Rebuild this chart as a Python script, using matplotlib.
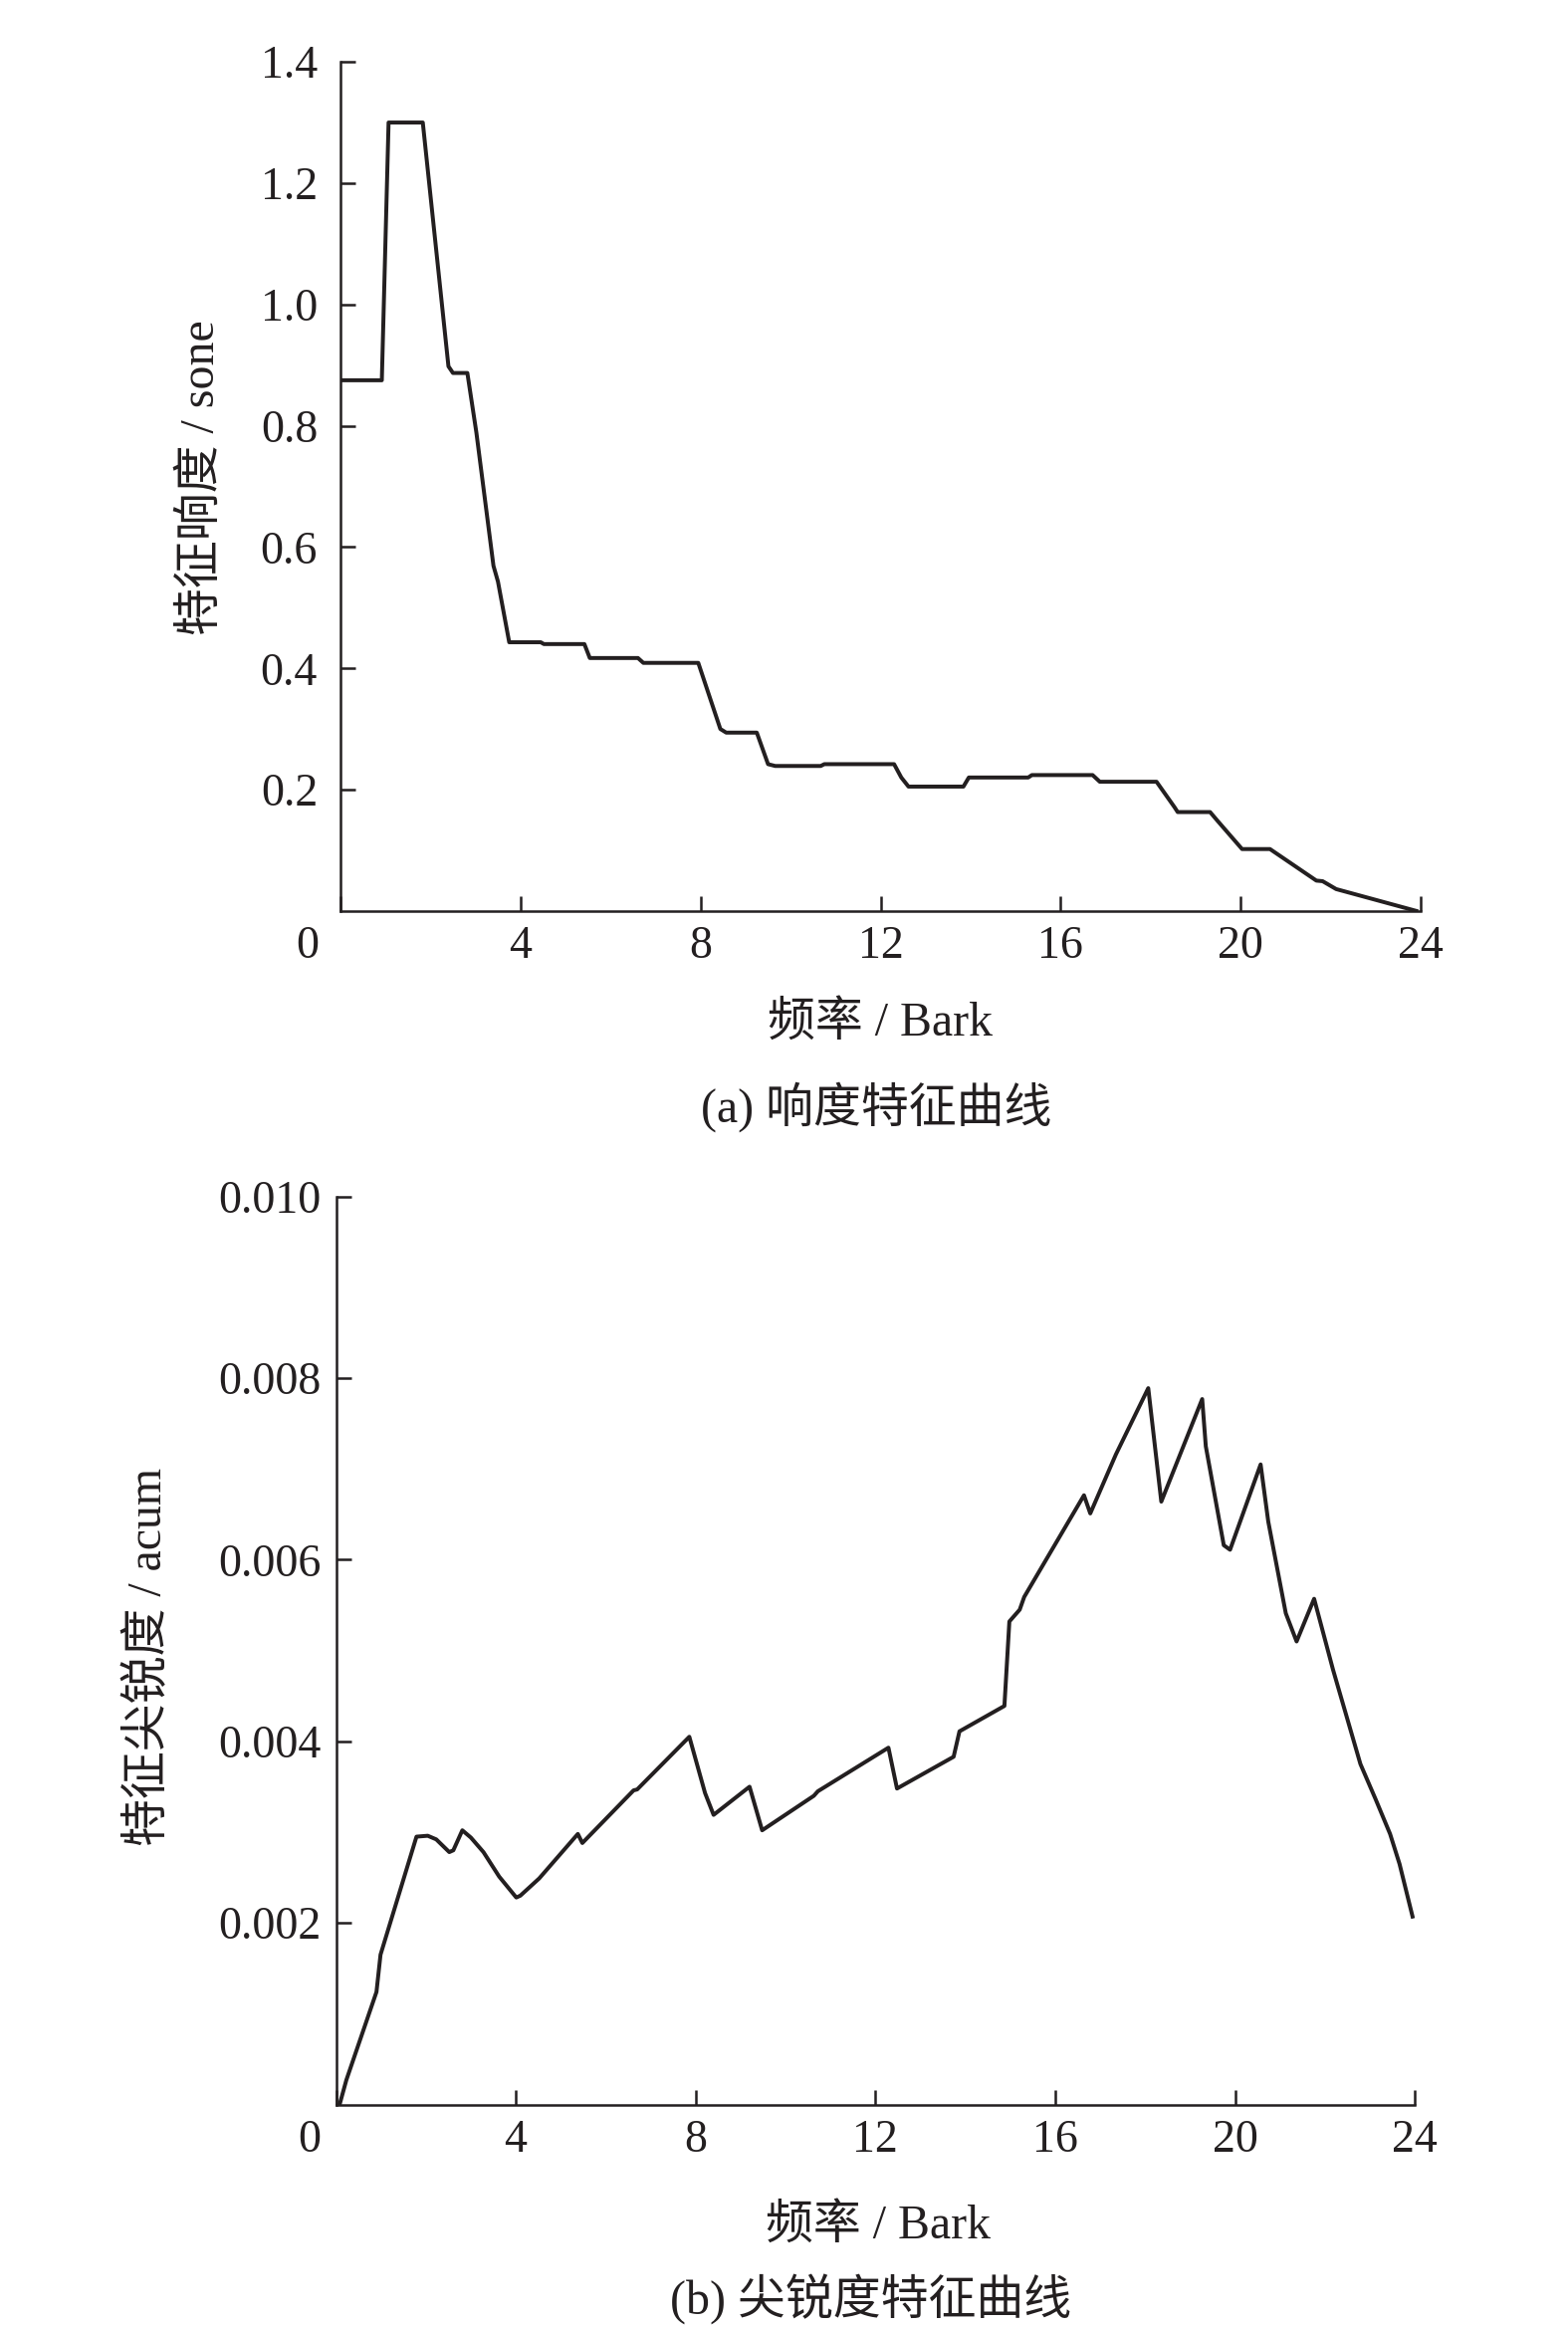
import matplotlib
matplotlib.use('Agg')
import matplotlib.pyplot as plt

plt.rcParams['font.family'] = ['Liberation Serif', 'Noto Sans CJK SC']
plt.rcParams['axes.unicode_minus'] = False

# (a) specific loudness
bark_a = [0, 0.92, 1.07, 1.83, 2.40, 2.50, 2.82, 3.02, 3.40, 3.50, 3.75, 4.45,
          4.52, 5.42, 5.54, 6.61, 6.73, 7.95, 8.44, 8.57, 9.25, 9.50, 9.66,
          10.67, 10.75, 12.30, 12.46, 12.62, 13.84, 13.96, 15.28, 15.36, 16.71,
          16.87, 18.13, 18.53, 18.60, 19.32, 19.48, 20.03, 20.65, 21.68, 21.82,
          22.12, 23.90]
loudness = [0.875, 0.875, 1.30, 1.30, 0.898, 0.887, 0.887, 0.789, 0.569, 0.543,
            0.443, 0.443, 0.440, 0.440, 0.417, 0.417, 0.409, 0.409, 0.300, 0.294,
            0.294, 0.242, 0.239, 0.239, 0.242, 0.242, 0.220, 0.205, 0.205, 0.220,
            0.220, 0.224, 0.224, 0.213, 0.213, 0.171, 0.163, 0.163, 0.149, 0.102,
            0.102, 0.050, 0.049, 0.036, 0.0]

# (b) specific sharpness
bark_b = [0.08, 0.23, 0.90, 0.99, 1.79, 2.04, 2.23, 2.52, 2.61, 2.81, 3.00, 3.28,
          3.63, 4.01, 4.10, 4.52, 5.38, 5.48, 6.62, 6.70, 7.86, 8.21, 8.40, 9.20,
          9.48, 10.63, 10.72, 12.29, 12.48, 13.74, 13.87, 14.87, 14.98, 15.21,
          15.31, 16.64, 16.78, 17.35, 18.07, 18.36, 19.27, 19.35, 19.75, 19.89,
          20.57, 20.74, 21.13, 21.37, 21.76, 22.18, 22.79, 23.13, 23.45, 23.66,
          23.95]
sharpness = [0.0, 0.00027, 0.00124, 0.00165, 0.00295, 0.00296, 0.00292, 0.00278,
             0.00280, 0.00302, 0.00294, 0.00278, 0.00251, 0.00228, 0.00230,
             0.00249, 0.00298, 0.00288, 0.00346, 0.00347, 0.00405, 0.00343,
             0.00319, 0.00350, 0.00302, 0.00340, 0.00345, 0.00393, 0.00348,
             0.00383, 0.00411, 0.00439, 0.00532, 0.00545, 0.00559, 0.00671,
             0.00651, 0.00716, 0.00789, 0.00664, 0.00777, 0.00725, 0.00616,
             0.00611, 0.00705, 0.00642, 0.00541, 0.00510, 0.00557, 0.00479,
             0.00375, 0.00336, 0.00298, 0.00265, 0.00207]

xticks = [0, 4, 8, 12, 16, 20, 24]
yticks_a = [0.2, 0.4, 0.6, 0.8, 1.0, 1.2, 1.4]
yticks_b = [0.002, 0.004, 0.006, 0.008, 0.010]

ink = '#231f20'
fig = plt.figure(figsize=(10.5, 15.587), dpi=150)

ax1 = fig.add_axes([0.2171, 0.6087, 0.6890, 0.3647])
ax2 = fig.add_axes([0.2143, 0.0960, 0.6880, 0.3900])


def style(ax, yticks, ylim, yfmt, ypad, zero_dx):
    ax.set_xlim(0, 24)
    ax.set_ylim(*ylim)
    for s in ['top', 'right']:
        ax.spines[s].set_visible(False)
    for s in ['left', 'bottom']:
        ax.spines[s].set_linewidth(1.2)
        ax.spines[s].set_color(ink)
    ax.set_xticks(xticks)
    ax.set_xticklabels([''] + [str(t) for t in xticks[1:]])
    ax.set_yticks(yticks)
    ax.set_yticklabels([yfmt.format(t) for t in yticks])
    ax.tick_params(direction='in', length=7, width=1.2, color=ink,
                   labelsize=22, labelcolor=ink)
    ax.tick_params(axis='y', pad=ypad)
    ax.tick_params(axis='x', pad=7)
    ax.annotate('0', xy=(0, 0), xycoords='axes fraction',
                xytext=(zero_dx, -7), textcoords='offset points',
                ha='center', va='top', fontsize=22, color=ink)


ax1.plot(bark_a, loudness, color=ink, lw=1.9)
style(ax1, yticks_a, (0, 1.4), '{:.1f}', 11, -16)

ax2.plot(bark_b, sharpness, color=ink, lw=1.9)
style(ax2, yticks_b, (0, 0.010), '{:.3f}', 7, -13)

fig.text(0.1286, 0.795, '特征响度 / sone', rotation=90, ha='center', va='center',
         fontsize=23, color=ink)
fig.text(0.561, 0.5605, '频率 / Bark', ha='center', va='center', fontsize=23, color=ink)
fig.text(0.559, 0.5245, '(a) 响度特征曲线', ha='center', va='center', fontsize=23, color=ink)

fig.text(0.0952, 0.2885, '特征尖锐度 / acum', rotation=90, ha='center', va='center',
         fontsize=23, color=ink)
fig.text(0.560, 0.0440, '频率 / Bark', ha='center', va='center', fontsize=23, color=ink)
fig.text(0.555, 0.0125, '(b) 尖锐度特征曲线', ha='center', va='center', fontsize=23, color=ink)

fig.savefig('out.png', dpi=150)
